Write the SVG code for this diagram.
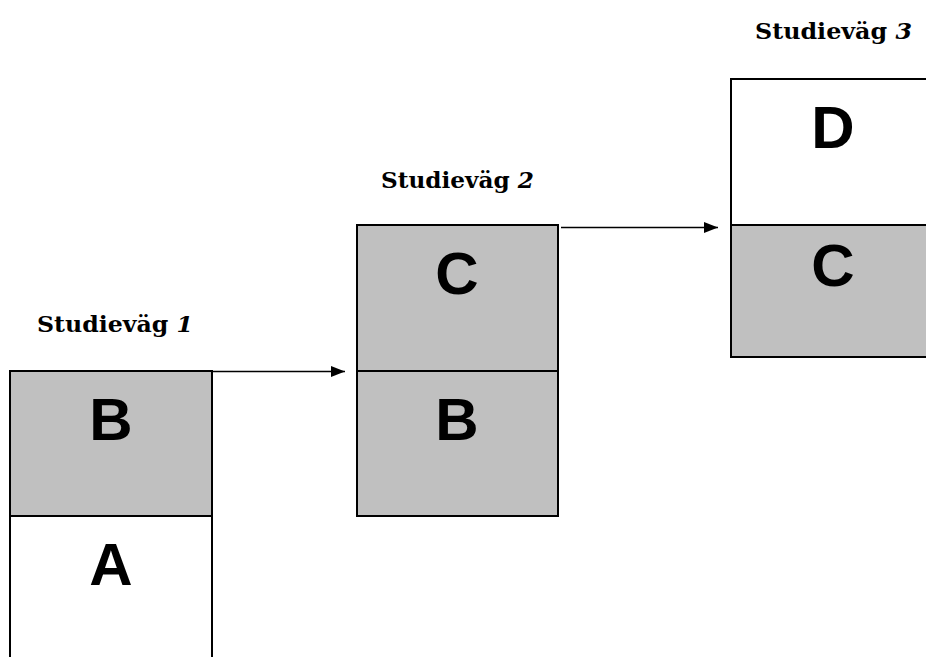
<svg xmlns="http://www.w3.org/2000/svg" width="926" height="657" viewBox="0 0 926 657">
<defs>
<style>
.box{stroke:#000;stroke-width:2}
.g{fill:#c0c0c0}
.w{fill:#fff}
.big{font-family:"Liberation Sans",Arial,sans-serif;font-weight:bold;font-size:60px;text-anchor:middle;fill:#000}
.lab{font-family:"DejaVu Serif","Liberation Serif",serif;font-weight:bold;font-size:22px;fill:#000}
.conn{stroke:#000;stroke-width:1.5;fill:none}
</style>
<marker id="ah" markerWidth="14" markerHeight="11" refX="14" refY="5.5" orient="auto" markerUnits="userSpaceOnUse">
<path d="M0,0 L14,5.5 L0,11 z" fill="#000"/>
</marker>
</defs>
<rect width="926" height="657" fill="#fff"/>
<g id="path1">
<text class="lab" x="37" y="332" textLength="156" lengthAdjust="spacingAndGlyphs">Studieväg <tspan font-style="italic">1</tspan></text>
<rect class="box g" x="10" y="371" width="202" height="145"/>
<rect class="box w" x="10" y="516" width="202" height="150"/>
<text class="big" x="111" y="440">B</text>
<text class="big" x="111" y="585">A</text>
</g>
<g id="path2">
<text class="lab" x="381" y="188" textLength="153" lengthAdjust="spacingAndGlyphs">Studieväg <tspan font-style="italic">2</tspan></text>
<rect class="box g" x="357" y="225" width="201" height="146"/>
<rect class="box g" x="357" y="371" width="201" height="145"/>
<text class="big" x="457" y="294">C</text>
<text class="big" x="457" y="440">B</text>
</g>
<g id="path3">
<text class="lab" x="755" y="39" textLength="157" lengthAdjust="spacingAndGlyphs">Studieväg <tspan font-style="italic">3</tspan></text>
<rect class="box w" x="731" y="79" width="205" height="146"/>
<rect class="box g" x="731" y="225" width="205" height="132"/>
<text class="big" x="833" y="148">D</text>
<text class="big" x="833" y="286">C</text>
</g>
<g id="connectors">
<line class="conn" x1="213" y1="371.5" x2="345" y2="371.5" marker-end="url(#ah)"/>
<line class="conn" x1="561" y1="227.5" x2="718" y2="227.5" marker-end="url(#ah)"/>
</g>
</svg>
